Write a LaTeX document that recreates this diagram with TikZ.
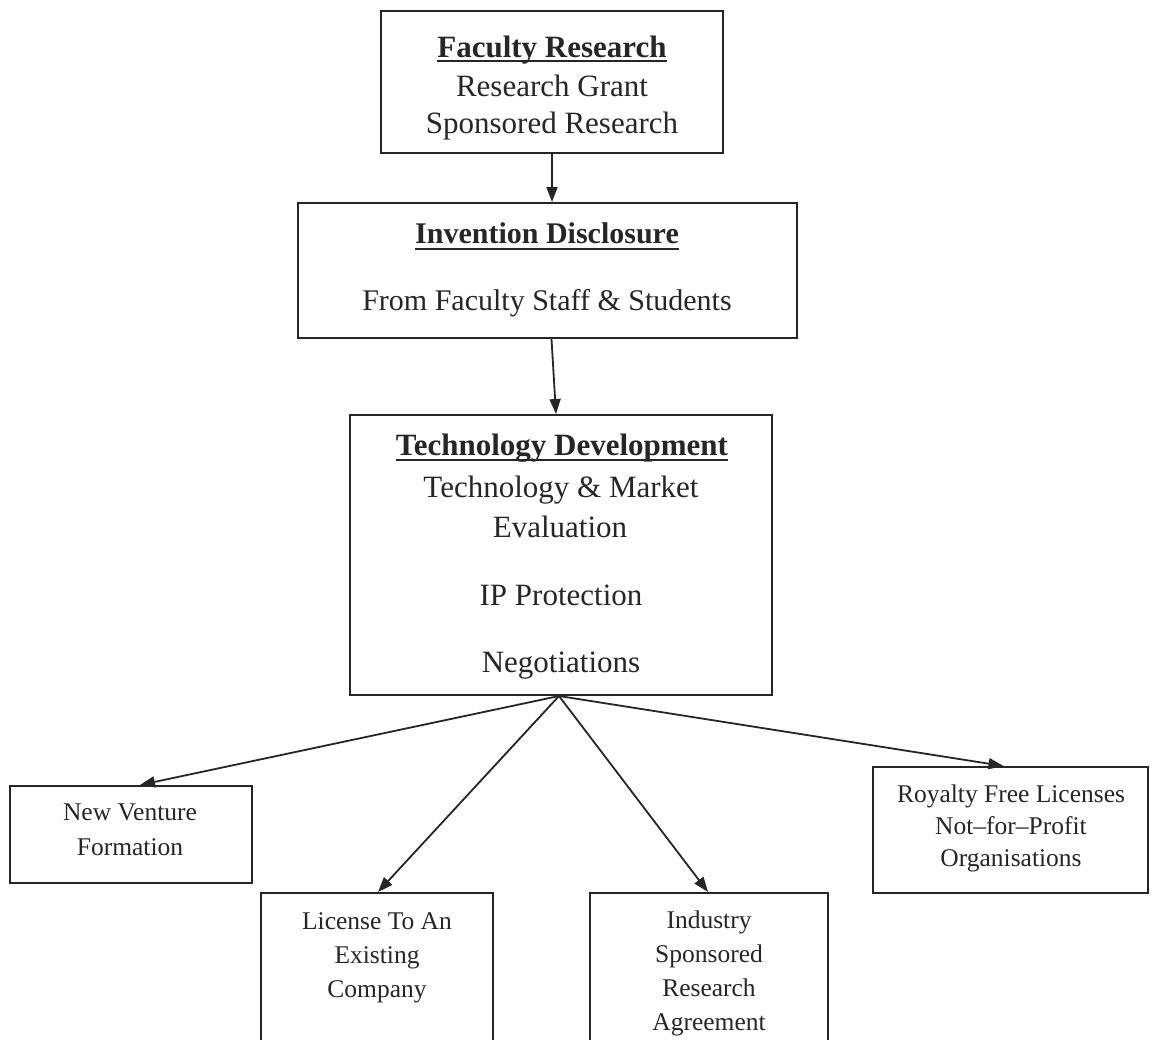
\documentclass[tikz,border=0pt]{standalone}
\usepackage{fontspec}
\setmainfont{Liberation Serif}
\usetikzlibrary{arrows.meta}
\definecolor{ink}{HTML}{262626}
\tikzset{
  box/.style={draw=ink, line width=2pt, rectangle, inner sep=0pt},
  txt/.style={text=ink, inner sep=0pt, anchor=base},
  big/.style={txt, font=\fontsize{31}{37}\selectfont},
  bigb/.style={txt, font=\fontsize{31}{37}\selectfont\bfseries},
  small/.style={txt, font=\fontsize{25.5}{30}\selectfont},
  ul/.style={draw=ink, line width=1.8pt},
  conn/.style={draw=ink, line width=1.8pt, -{Triangle[length=15pt,width=11pt]}}
}
\begin{document}
\begin{tikzpicture}[x=1pt,y=-1pt]
\useasboundingbox (0,0) rectangle (1154,1039);
% boxes
\node[box, minimum width=342pt, minimum height=142pt] (fac) at (552,82) {};
\node[box, minimum width=499pt, minimum height=135pt] (inv) at (547.5,270.5) {};
\node[box, minimum width=422pt, minimum height=280pt] (tech) at (561,555) {};
\node[box, minimum width=242pt, minimum height=97pt] (nv) at (131,834.5) {};
\node[box, minimum width=232pt, minimum height=160pt] (lic) at (377,973) {};
\node[box, minimum width=238pt, minimum height=160pt] (ind) at (709,973) {};
\node[box, minimum width=275pt, minimum height=126pt] (roy) at (1010.5,830) {};
% texts: faculty
\node[bigb] (ft) at (552,57) {Faculty Research};
\draw[ul] ([yshift=-4pt]ft.base west) -- ([yshift=-4pt]ft.base east);
\node[big] (f1) at (552,96) {Research Grant};
\node[big] (f2) at (552,133) {Sponsored Research};
% invention
\node[bigb, font=\fontsize{30}{36}\selectfont\bfseries] (it) at (547,243) {Invention Disclosure};
\draw[ul] ([yshift=-6pt]it.base west) -- ([yshift=-6pt]it.base east);
\node[big, font=\fontsize{30}{36}\selectfont] (i1) at (547,310) {From Faculty Staff \& Students};
% technology
\node[bigb] (tt) at (562,455) {Technology Development};
\draw[ul] ([yshift=-5pt]tt.base west) -- ([yshift=-5pt]tt.base east);
\node[big] (t1) at (561,497) {Technology \& Market};
\node[big] (t2) at (560,537) {Evaluation};
\node[big] (t3) at (561,605) {IP Protection};
\node[big] (t4) at (561,672) {Negotiations};
% new venture
\node[small] (n1) at (130,820) {New Venture};
\node[small] (n2) at (130,855) {Formation};
% license
\node[small] (l1) at (377,929) {License To An};
\node[small] (l2) at (377,963) {Existing};
\node[small] (l3) at (377,997) {Company};
% industry
\node[small] (d1) at (709,928) {Industry};
\node[small] (d2) at (709,962) {Sponsored};
\node[small] (d3) at (709,996) {Research};
\node[small] (d4) at (709,1030) {Agreement};
% royalty
\node[small] (r1) at (1011,802) {Royalty Free Licenses};
\node[small] (r2) at (1011,834) {Not--for--Profit};
\node[small] (r3) at (1011,866) {Organisations};
% connectors
\draw[conn] (fac.south) -- (fac.south |- inv.north);
\draw[conn] ([xshift=4pt]inv.south) -- ([xshift=-5pt]tech.north);
\coordinate (fan) at ([xshift=-2pt]tech.south);
\draw[conn] (fan) -- ([xshift=9pt]nv.north);
\draw[conn] (fan) -- ([xshift=1pt]lic.north);
\draw[conn] (fan) -- ([xshift=-1pt]ind.north);
\draw[conn] (fan) -- ([xshift=-7pt]roy.north);
\end{tikzpicture}
\end{document}
